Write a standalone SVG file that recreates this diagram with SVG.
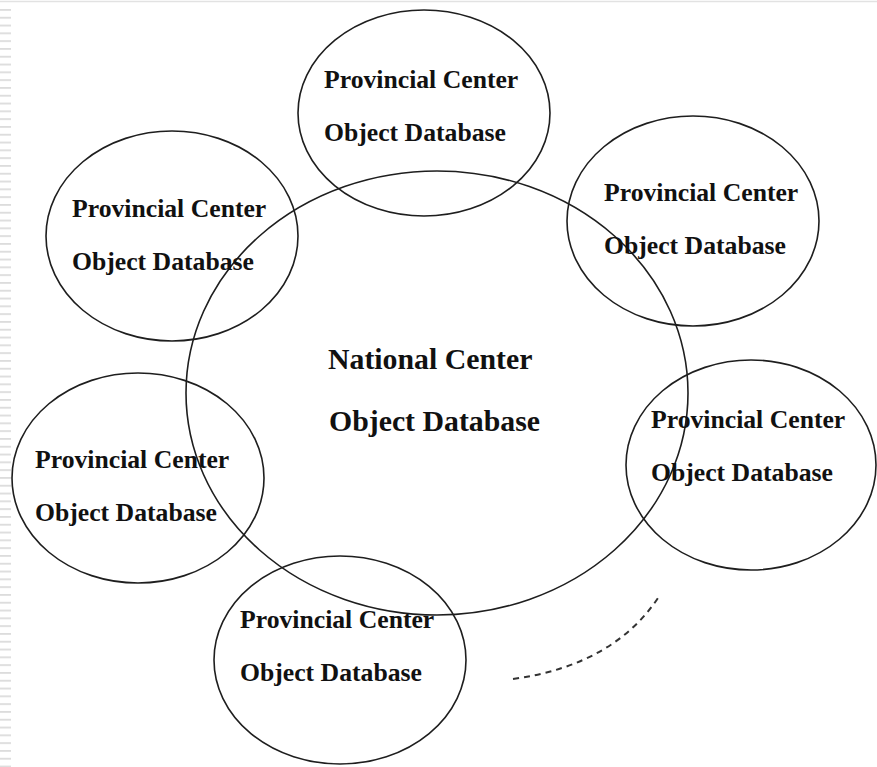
<svg xmlns="http://www.w3.org/2000/svg" width="877" height="767" viewBox="0 0 877 767">
<style>
.node ellipse{fill:none;stroke:#1e1e1e;stroke-width:1.6}
.t{font-family:"Liberation Serif","Times New Roman",serif;font-weight:bold;font-size:25.7px;fill:#111111}
.big{font-size:29.8px}
</style>
<defs>
<pattern id="stripes" x="0" y="9" width="12" height="7.8" patternUnits="userSpaceOnUse">
<rect x="0" y="0" width="11" height="1.8" fill="#dcdcdc"/>
</pattern>
</defs>
<rect width="877" height="767" fill="#ffffff"/>
<line x1="0" y1="1.5" x2="877" y2="1.5" stroke="#e2e2e2" stroke-width="1.5"/>
<rect x="0" y="9" width="11" height="758" fill="url(#stripes)"/>
<g id="national" class="node">
<ellipse cx="437" cy="393" rx="251" ry="222"/>
<text class="t big" x="328" y="369">National Center</text>
<text class="t big" x="329" y="431">Object Database</text>
</g>
<g id="prov-top" class="node">
<ellipse cx="424" cy="113" rx="126" ry="103"/>
<text class="t" x="324" y="88">Provincial Center</text>
<text class="t" x="324" y="141">Object Database</text>
</g>
<g id="prov-upper-left" class="node">
<ellipse cx="172" cy="236" rx="126" ry="105"/>
<text class="t" x="72" y="217">Provincial Center</text>
<text class="t" x="72" y="270">Object Database</text>
</g>
<g id="prov-upper-right" class="node">
<ellipse cx="693" cy="221" rx="126" ry="105"/>
<text class="t" x="604" y="201">Provincial Center</text>
<text class="t" x="604" y="254">Object Database</text>
</g>
<g id="prov-left" class="node">
<ellipse cx="138" cy="478" rx="126" ry="105"/>
<text class="t" x="35" y="468">Provincial Center</text>
<text class="t" x="35" y="521">Object Database</text>
</g>
<g id="prov-right" class="node">
<ellipse cx="751" cy="465" rx="125" ry="105"/>
<text class="t" x="651" y="428">Provincial Center</text>
<text class="t" x="651" y="481">Object Database</text>
</g>
<g id="prov-bottom" class="node">
<ellipse cx="340" cy="660" rx="126" ry="104"/>
<text class="t" x="240" y="628">Provincial Center</text>
<text class="t" x="240" y="681">Object Database</text>
</g>
<g id="connectors">
<path d="M513,679 Q615,665 660,595" fill="none" stroke="#333" stroke-width="2" stroke-dasharray="6,5"/>
</g>
</svg>
